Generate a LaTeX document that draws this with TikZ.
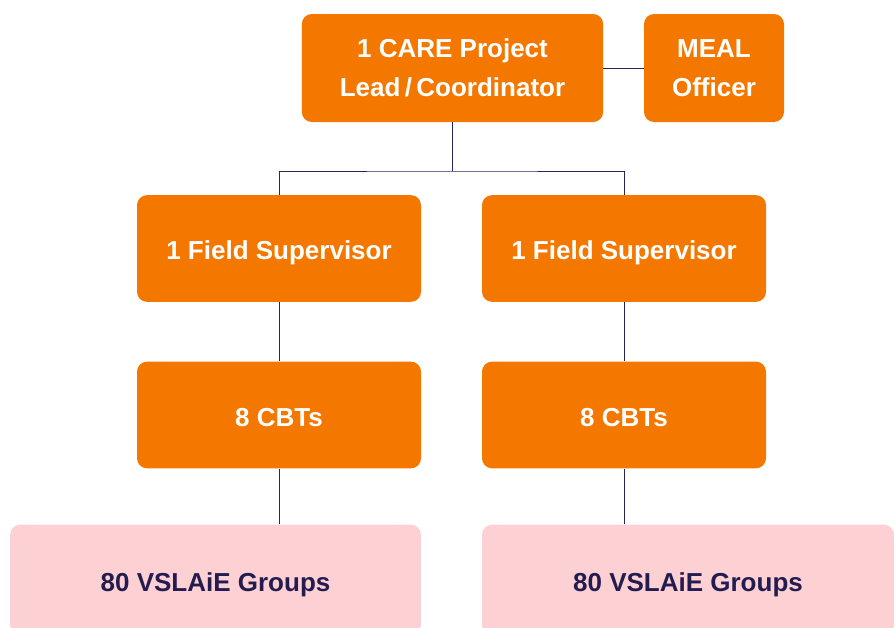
\documentclass[tikz,border=0pt]{standalone}
\usepackage{fontspec}
\setmainfont{Liberation Sans}
\usetikzlibrary{positioning}
\definecolor{careorange}{HTML}{F47800}
\definecolor{grouppink}{HTML}{FDD0D4}
\definecolor{linenavy}{HTML}{2B2356}
\definecolor{textnavy}{HTML}{231C4F}
\tikzset{
  rolebox/.style={rectangle, rounded corners=7.5pt, fill=careorange, text=white,
    font=\bfseries\fontsize{19.5}{30}\selectfont, align=center, inner sep=0pt},
  groupbox/.style={rectangle, rounded corners=7.5pt, fill=grouppink, text=textnavy,
    font=\bfseries\fontsize{19.5}{30}\selectfont, align=center, inner sep=0pt},
  oneline/.style={text height=17pt, text depth=0pt},
  link/.style={draw=linenavy, line width=0.75pt}
}
\begin{document}
\begin{tikzpicture}[x=0.75pt, y=-0.75pt]
                \useasboundingbox (0,0) rectangle (894,628);
                \begin{scope}
                \clip (0,0) rectangle (894,628);
                \node (lead) [rolebox, minimum width=226pt, minimum height=81pt] at (452.5,68) {1 CARE Project\\[-0.5pt]Lead\,/\,Coordinator};
                \node (meal) [rolebox, minimum width=105pt, minimum height=81pt] at (714,68) {MEAL\\[-0.5pt]Officer};
                \node (fs1) [rolebox, oneline, minimum width=213pt, minimum height=80pt] at (279,248.5) {1 Field Supervisor};
                \node (fs2) [rolebox, oneline, minimum width=213pt, minimum height=80pt] at (624,248.5) {1 Field Supervisor};
                \node (cbt1) [rolebox, oneline, minimum width=213pt, minimum height=80pt] at (279,415) {8 CBTs};
                \node (cbt2) [rolebox, oneline, minimum width=213pt, minimum height=80pt] at (624,415) {8 CBTs};
                \node (vsla1) [groupbox, oneline, minimum width=308pt, minimum height=83pt] at (215.5,580) {80 VSLAiE Groups};
                \node (vsla2) [groupbox, oneline, minimum width=309pt, minimum height=83pt] at (688,580) {80 VSLAiE Groups};
                \end{scope}
                \coordinate (split) at (452.5,171);
                \draw[link] (lead.east) -- (meal.west);
                \draw[link] (lead.south) -- (split);
                \draw[link] (fs1.north) |- (split) -| (fs2.north);
                \draw[link] (fs1.south) -- (cbt1.north);
                \draw[link] (fs2.south) -- (cbt2.north);
                \draw[link] (cbt1.south) -- (cbt1.south |- vsla1.north);
                \draw[link] (cbt2.south) -- (cbt2.south |- vsla2.north);
            \end{tikzpicture}
\end{document}
